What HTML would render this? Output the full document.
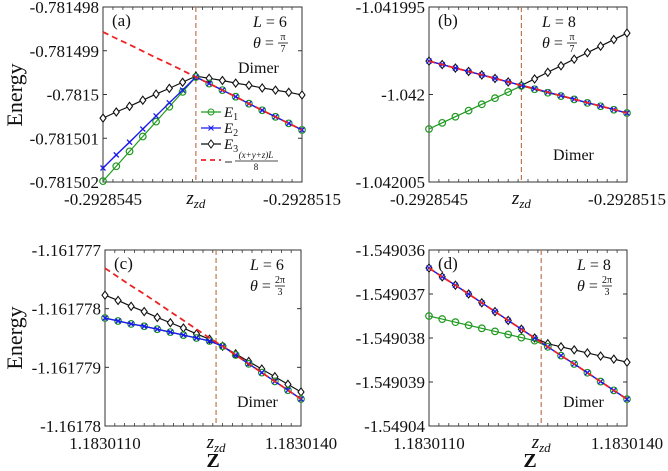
<!DOCTYPE html>
<html><head><meta charset="utf-8">
<style>
html,body{margin:0;padding:0;background:#fff;}
svg{display:block;font-family:"Liberation Serif",serif;}
</style></head>
<body>
<svg id="fig" width="668" height="471" viewBox="0 0 668 471" xmlns="http://www.w3.org/2000/svg"></svg>
<script>
// shared x sample positions (offset along Z, units of 1e-7 from left limit)
const xs = [0,2,4,6,8,10,12,14,16,18,20,22,24,26,28,30];

// Panel (a): values offset in 1e-6 above -0.781502
const aE1 = [0.02,0.36,0.70,1.04,1.38,1.72,2.06,2.40,2.25,2.10,1.95,1.79,1.64,1.49,1.34,1.19];
const aE2 = [0.32,0.62,0.91,1.21,1.51,1.81,2.10,2.40,2.25,2.10,1.95,1.79,1.64,1.49,1.34,1.19];
const aE3 = [1.46,1.60,1.73,1.87,2.01,2.14,2.28,2.42,2.37,2.32,2.26,2.21,2.15,2.10,2.05,1.99];
const aRed = [3.43,3.28,3.14,2.99,2.84,2.70,2.55,2.40,2.25,2.10,1.95,1.79,1.64,1.49,1.34,1.19];
const aTicks = ["-0.781502","-0.781501","-0.7815","-0.781499","-0.781498"];

// Panel (b): offset in 1e-6 above -1.042005
const bE1 = [3.03,3.38,3.73,4.08,4.44,4.79,5.14,5.49,5.30,5.10,4.91,4.72,4.52,4.33,4.13,3.94];
const bE2 = [6.91,6.71,6.51,6.32,6.12,5.92,5.72,5.52,5.33,5.13,4.93,4.73,4.53,4.34,4.14,3.94];
const bE3 = [6.91,6.71,6.51,6.32,6.12,5.92,5.72,5.52,5.89,6.27,6.64,7.02,7.39,7.76,8.14,8.51];
const bRed = [6.91,6.71,6.51,6.32,6.12,5.92,5.72,5.52,5.33,5.13,4.93,4.73,4.53,4.34,4.14,3.94];
const bTicks = ["-1.042005","-1.042","-1.041995"];

// Panel (c): offset in 1e-6 above -1.16178
const cE1 = [1.84,1.79,1.74,1.70,1.65,1.60,1.55,1.50,1.45,1.36,1.21,1.06,0.91,0.76,0.61,0.46];
const cE2 = [1.84,1.79,1.74,1.70,1.65,1.60,1.55,1.50,1.45,1.36,1.21,1.06,0.91,0.76,0.61,0.46];
const cE3 = [2.23,2.14,2.04,1.95,1.85,1.76,1.67,1.57,1.48,1.36,1.23,1.10,0.97,0.84,0.71,0.58];
const cRed = [2.69,2.54,2.39,2.25,2.10,1.95,1.80,1.65,1.50,1.36,1.21,1.06,0.91,0.76,0.61,0.46];
const cTicks = ["-1.16178","-1.161779","-1.161778","-1.161777"];

// Panel (d): offset in 1e-6 above -1.54904
const dE1 = [2.50,2.43,2.36,2.29,2.22,2.15,2.08,2.01,1.94,1.80,1.60,1.41,1.21,1.01,0.81,0.61];
const dE2 = [3.59,3.39,3.20,3.00,2.80,2.60,2.40,2.20,2.00,1.80,1.60,1.41,1.21,1.01,0.81,0.61];
const dE3 = [3.59,3.39,3.20,3.00,2.80,2.60,2.40,2.20,2.00,1.87,1.80,1.73,1.66,1.59,1.52,1.45];
const dRed = [3.59,3.39,3.20,3.00,2.80,2.60,2.40,2.20,2.00,1.80,1.60,1.41,1.21,1.01,0.81,0.61];
const dTicks = ["-1.54904","-1.549039","-1.549038","-1.549037","-1.549036"];

const NS = "http://www.w3.org/2000/svg";
const svg = document.getElementById("fig");
function mk(tag, attrs, parent){
  const e = document.createElementNS(NS, tag);
  for (const k in attrs) e.setAttribute(k, attrs[k]);
  (parent||svg).appendChild(e);
  return e;
}

const panels = [
  {id:"a", L:6, th:["π","7"], box:[103,7,302,182], ymax:4, ticks:aTicks, zzd:14, xl:["-0.2928545","-0.2928515"], E1:aE1,E2:aE2,E3:aE3,R:aRed, dimer:[238,73], ann:253, legend:true},
  {id:"b", L:8, th:["π","7"], box:[429,7,627,182], ymax:10, ticks:bTicks, zzd:14, xl:["-0.2928545","-0.2928515"], E1:bE1,E2:bE2,E3:bE3,R:bRed, dimer:[553,160], ann:542},
  {id:"c", L:6, th:["2π","3"], box:[105,250,301,426], ymax:3, ticks:cTicks, zzd:17, xl:["1.1830110","1.1830140"], E1:cE1,E2:cE2,E3:cE3,R:cRed, dimer:[237,407], ann:250, zlabel:213},
  {id:"d", L:8, th:["2π","3"], box:[429,250,627,426], ymax:4, ticks:dTicks, zzd:17, xl:["1.1830110","1.1830140"], E1:dE1,E2:dE2,E3:dE3,R:dRed, dimer:[563,407], ann:577, zlabel:530}
];

panels.forEach(p=>{
  const [x0,y0,x1,y1] = p.box;
  const g = mk("g", {});
  
  
  const sx = v => x0 + (v/30)*(x1-x0);
  const sy = v => y1 - (v/p.ymax)*(y1-y0);
  const nT = p.ticks.length-1;
  const fr = mk("rect",{x:x0,y:y0,width:x1-x0,height:y1-y0,fill:"none",stroke:"#333","stroke-width":1},g);
  
  
  p.ticks.forEach((t,i)=>{
    const y = y1 - i*(y1-y0)/nT;
    mk("line",{x1:x0,y1:y,x2:x0+4,y2:y,stroke:"#333"},g);
    mk("line",{x1:x1,y1:y,x2:x1-4,y2:y,stroke:"#333"},g);
    const tx = mk("text",{x:x0-4,y:y+6,"text-anchor":"end","font-size":17,fill:"#111"},g);
    tx.textContent = t;
    
    
  });
  for(let k=0;k<=30;k+=1.5){
    mk("line",{x1:sx(k),y1:y1,x2:sx(k),y2:y1-3,stroke:"#333","stroke-width":0.8},g);
    mk("line",{x1:sx(k),y1:y0,x2:sx(k),y2:y0+3,stroke:"#333","stroke-width":0.8},g);
  }
  const xl0 = mk("text",{x:x0,y:y1+23,"text-anchor":"middle","font-size":17,fill:"#111"},g);
  xl0.textContent = p.xl[0];
  
  
  const xl1 = mk("text",{x:x1,y:y1+23,"text-anchor":"middle","font-size":17,fill:"#111"},g);
  xl1.textContent = p.xl[1];
  
  
  const zz = mk("text",{x:sx(p.zzd),y:y1+22,"text-anchor":"middle","font-size":19,"font-style":"italic",fill:"#111"},g);
  zz.innerHTML = 'z<tspan font-size="13" dy="4">zd</tspan>';
  
  
  const vl = mk("line",{x1:sx(p.zzd),y1:y0,x2:sx(p.zzd),y2:y1,stroke:"#c0764f","stroke-width":1.2,"stroke-dasharray":"5,3"},g);
  
  
  const pts = arr => xs.map((x,i)=>sx(x)+","+sy(arr[i])).join(" ");
  const s3 = mk("g",{},g);
  
  
  mk("polyline",{points:pts(p.E3),fill:"none",stroke:"#111","stroke-width":1.2},s3);
  xs.forEach((x,i)=>{const cx=sx(x),cy=sy(p.E3[i]);
    const d=mk("polygon",{points:`${cx},${cy-4} ${cx+3},${cy} ${cx},${cy+4} ${cx-3},${cy}`,fill:"#fff",stroke:"#111","stroke-width":1.1},s3);
    
    });
  const s1 = mk("g",{},g);
  
  
  mk("polyline",{points:pts(p.E1),fill:"none",stroke:"#1f9a1f","stroke-width":1.2},s1);
  xs.forEach((x,i)=>{
    const c=mk("circle",{cx:sx(x),cy:sy(p.E1[i]),r:3.3,fill:"none",stroke:"#1f9a1f","stroke-width":1.2},s1);
    
    });
  const s2 = mk("g",{},g);
  
  
  mk("polyline",{points:pts(p.E2),fill:"none",stroke:"#1a1aee","stroke-width":1.4},s2);
  xs.forEach((x,i)=>{const cx=sx(x),cy=sy(p.E2[i]);
    const m=mk("path",{d:`M${cx-2.5},${cy-2.5}L${cx+2.5},${cy+2.5}M${cx-2.5},${cy+2.5}L${cx+2.5},${cy-2.5}`,stroke:"#1a1aee","stroke-width":1.3},s2);
    
    });
  const rl = mk("polyline",{points:pts(p.R),fill:"none",stroke:"#ee2222","stroke-width":1.8,"stroke-dasharray":"6,4"},g);
  
  
  const pl = mk("text",{x:x0+9,y:y0+19,"font-size":17,fill:"#111"},g);
  pl.textContent = "("+p.id+")";
  
  
  const ax = p.ann;
  const lt = mk("text",{x:ax,y:y0+20,"font-size":16,fill:"#111"},g);
  lt.innerHTML = '<tspan font-style="italic">L</tspan> = '+p.L;
  
  
  const tg = mk("g",{},g);
  
  
  const tt = mk("text",{x:ax,y:y0+41,"font-size":16,fill:"#111"},tg);
  tt.innerHTML = '<tspan font-style="italic">θ</tspan> =';
  const fx = ax+30;
  const tn = mk("text",{x:fx,y:y0+33,"text-anchor":"middle","font-size":10,fill:"#111"},tg); tn.textContent=p.th[0];
  mk("line",{x1:fx-5,y1:y0+36,x2:fx+5,y2:y0+36,stroke:"#111","stroke-width":0.8},tg);
  const td = mk("text",{x:fx,y:y0+45,"text-anchor":"middle","font-size":10,fill:"#111"},tg); td.textContent=p.th[1];
  const dm = mk("text",{x:p.dimer[0],y:p.dimer[1],"font-size":16,fill:"#111"},g);
  dm.textContent = "Dimer";
  
  
  if (p.zlabel){
    const zl = mk("text",{x:p.zlabel,y:467,"text-anchor":"middle","font-size":20,"font-weight":"bold",fill:"#111"},g);
    zl.textContent = "Z";
    
    
  }
  if (p.legend){
    const lg = mk("g",{},g);
    
    
    const rows=[["#1f9a1f","E","1"],["#1a1aee","E","2"],["#111","E","3"]];
    rows.forEach((r,i)=>{
      const y=112+i*16;
      mk("line",{x1:201,y1:y,x2:221,y2:y,stroke:r[0],"stroke-width":1.3},lg);
      if(i==0) mk("circle",{cx:211,cy:y,r:3,fill:"none",stroke:r[0]},lg);
      if(i==1) mk("path",{d:`M208.5,${y-2.5}L213.5,${y+2.5}M208.5,${y+2.5}L213.5,${y-2.5}`,stroke:r[0]},lg);
      if(i==2) mk("polygon",{points:`211,${y-4} 214,${y} 211,${y+4} 208,${y}`,fill:"#fff",stroke:r[0]},lg);
      const t=mk("text",{x:224,y:y+5,"font-size":15,"font-style":"italic",fill:"#111"},lg);
      t.innerHTML = r[1]+'<tspan font-size="10" dy="3" font-style="normal">'+r[2]+'</tspan>';
    });
    mk("line",{x1:201,y1:160,x2:221,y2:160,stroke:"#ee2222","stroke-width":1.8,"stroke-dasharray":"5,4"},lg);
    mk("line",{x1:225,y1:162,x2:232,y2:162,stroke:"#111","stroke-width":0.9},lg);
    const n=mk("text",{x:256,y:158,"text-anchor":"middle","font-size":9,"font-style":"italic",fill:"#111"},lg); n.textContent="(x+y+z)L";
    mk("line",{x1:235,y1:161,x2:278,y2:161,stroke:"#111","stroke-width":0.7},lg);
    const d=mk("text",{x:256,y:170,"text-anchor":"middle","font-size":9,fill:"#111"},lg); d.textContent="8";
  }
});
[[15,95],[15,338]].forEach(([x,y])=>{
  const t = mk("text",{x:x,y:y,"text-anchor":"middle","font-size":22,fill:"#111",transform:`rotate(-90 ${x} ${y}) translate(0 7)`});
  t.textContent = "Energy";
  
  
});
</script>
</body></html>
